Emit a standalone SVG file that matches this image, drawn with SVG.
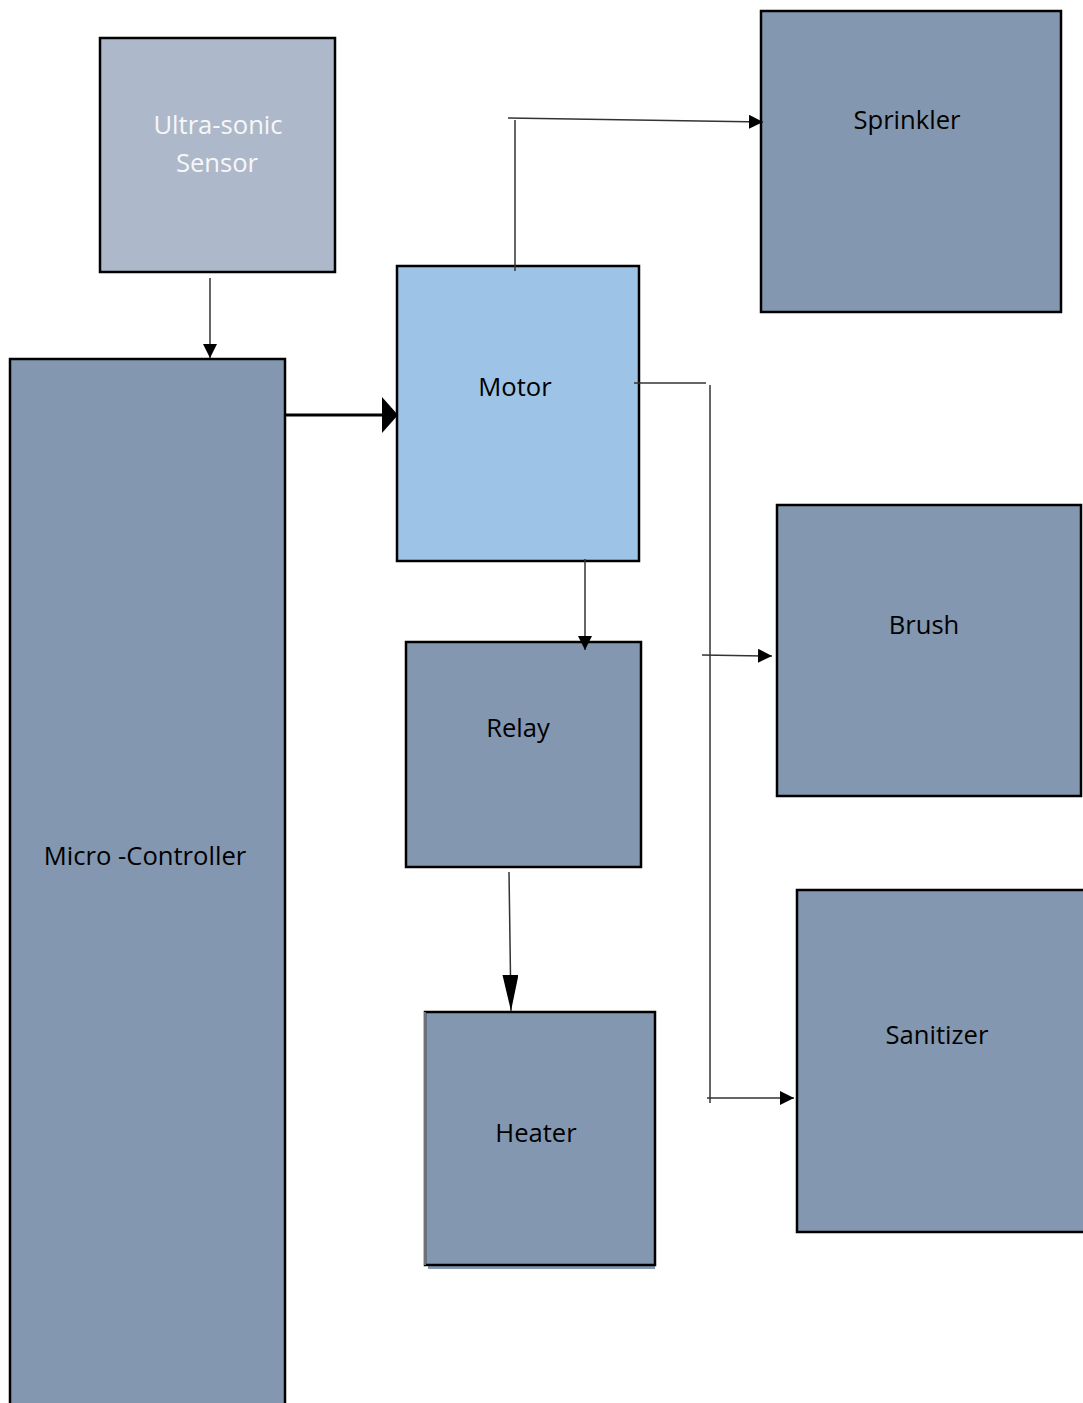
<svg xmlns="http://www.w3.org/2000/svg" width="1083" height="1403" viewBox="0 0 1083 1403">
<style>
.node{stroke:#000;stroke-width:2.5}
.dark{fill:#8497b0}
.lbl{font-family:"Open Sans","Liberation Sans",sans-serif;font-size:25.6px;fill:#000;text-anchor:middle}
.thin{stroke:#333;stroke-width:1.5;fill:none}
</style>
<defs>
<marker id="ah" viewBox="0 0 10 10" refX="10" refY="5" markerWidth="14" markerHeight="14" markerUnits="userSpaceOnUse" orient="auto">
<path d="M0,0L10,5L0,10z" fill="#000"/>
</marker>
<marker id="ahBig" viewBox="0 0 10 10" refX="10" refY="5" markerWidth="16" markerHeight="36" markerUnits="userSpaceOnUse" orient="auto" preserveAspectRatio="none">
<path d="M0,0L10,5L0,10z" fill="#000"/>
</marker>
<marker id="ahTall" viewBox="0 0 10 10" refX="10" refY="5" markerWidth="36" markerHeight="16" markerUnits="userSpaceOnUse" orient="auto" preserveAspectRatio="none">
<path d="M0,0L10,5L0,10z" fill="#000"/>
</marker>
</defs>
<rect width="1083" height="1403" fill="#fff"/>
<g id="sensor">
<rect class="node" x="100" y="38" width="235" height="234" fill="#adb9ca"/>
<text class="lbl" x="218" y="134" style="fill:#f7f7f7">Ultra-sonic</text>
<text class="lbl" x="217" y="172" style="fill:#f7f7f7">Sensor</text>
</g>
<g id="microcontroller">
<rect class="node dark" x="10" y="359" width="275" height="1060"/>
<text class="lbl" x="145" y="865">Micro -Controller</text>
</g>
<g id="motor">
<rect class="node" x="397" y="266" width="242" height="295" fill="#9dc3e6"/>
<text class="lbl" x="515" y="396">Motor</text>
</g>
<g id="sprinkler">
<rect class="node dark" x="761" y="11" width="300" height="301"/>
<text class="lbl" x="907" y="129">Sprinkler</text>
</g>
<g id="relay">
<rect class="node dark" x="406" y="642" width="235" height="225"/>
<text class="lbl" x="518" y="737">Relay</text>
</g>
<g id="heater">
<rect x="428" y="1016" width="227" height="253" fill="#8497b0"/>
<rect class="node dark" x="425" y="1012" width="230" height="253"/>
<line x1="425" y1="1012" x2="425" y2="1265" stroke="#999" stroke-width="1.5"/>
<text class="lbl" x="536" y="1142">Heater</text>
</g>
<g id="brush">
<rect class="node dark" x="777" y="505" width="304" height="291"/>
<text class="lbl" x="924" y="634">Brush</text>
</g>
<g id="sanitizer">
<rect class="node dark" x="797" y="890" width="300" height="342"/>
<text class="lbl" x="937" y="1044">Sanitizer</text>
</g>
<g id="connectors">
<line class="thin" x1="210" y1="278" x2="210" y2="358" marker-end="url(#ah)"/>
<line x1="285" y1="415" x2="398" y2="415" stroke="#000" stroke-width="3" marker-end="url(#ahBig)"/>
<line class="thin" x1="515" y1="120" x2="515" y2="271"/>
<line class="thin" x1="508" y1="118" x2="763" y2="122" marker-end="url(#ah)"/>
<line class="thin" x1="634" y1="383" x2="706" y2="383"/>
<line class="thin" x1="710" y1="385" x2="710" y2="1103"/>
<line class="thin" x1="702" y1="655" x2="772" y2="656" marker-end="url(#ah)"/>
<line class="thin" x1="707" y1="1098" x2="794" y2="1098" marker-end="url(#ah)"/>
<line class="thin" x1="585" y1="559" x2="585" y2="650" marker-end="url(#ah)"/>
<line class="thin" x1="509" y1="872" x2="511" y2="1011" marker-end="url(#ahTall)"/>
</g>
</svg>
